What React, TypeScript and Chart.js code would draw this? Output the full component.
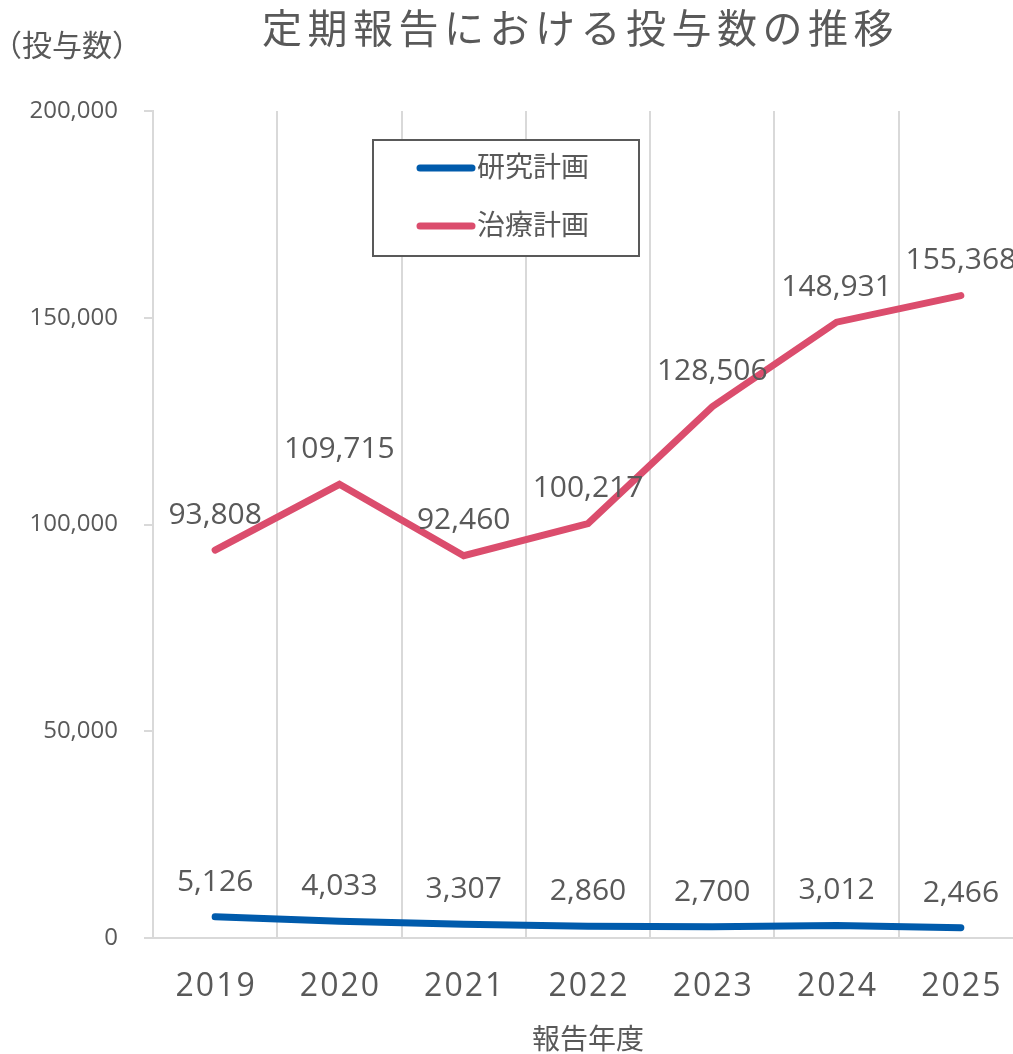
import React, { useEffect, useRef } from "react";
import { Chart, registerables } from "chart.js";

Chart.register(...registerables);

const title = "定期報告における投与数の推移";
const yAxisTitle = "（投与数）";
const xAxisTitle = "報告年度";
const years = ["2019", "2020", "2021", "2022", "2023", "2024", "2025"];
const seriesNames = ["研究計画", "治療計画"];
const research = [5126, 4033, 3307, 2860, 2700, 3012, 2466];
const treatment = [93808, 109715, 92460, 100217, 128506, 148931, 155368];
const yMin = 0;
const yMax = 200000;
const yStep = 50000;

const TEXT = "#595959";
const GRID = "#d9d9d9";
const BLUE = "#005bac";
const RED = "#db4d6d";
const NUM_FONT = '"Open Sans", "Noto Sans", sans-serif';
const JP_FONT = '"Noto Sans CJK JP", "Noto Sans", sans-serif';

const fmt = (v: number) => Number(v).toLocaleString("en-US");

const decorPlugin = {
  id: "decor",
  afterDatasetsDraw(chart: any) {
    const ctx = chart.ctx as CanvasRenderingContext2D;
    ctx.save();
    ctx.fillStyle = TEXT;
    ctx.font = `30px ${NUM_FONT}`;
    ctx.textAlign = "center";
    ctx.textBaseline = "alphabetic";
    chart.data.datasets.forEach((ds: any, i: number) => {
      const meta = chart.getDatasetMeta(i);
      meta.data.forEach((pt: any, j: number) => {
        ctx.fillText(fmt(ds.data[j]), pt.x, pt.y - 37 + 0.357 * 30);
      });
    });
    ctx.restore();
  },
  afterDraw(chart: any) {
    const ctx = chart.ctx as CanvasRenderingContext2D;
    const area = chart.chartArea;
    const xs = chart.scales.x;
    ctx.save();
    ctx.fillStyle = TEXT;

    // title
    ctx.font = `40px ${JP_FONT}`;
    (ctx as any).letterSpacing = "5.5px";
    ctx.textAlign = "left";
    ctx.textBaseline = "middle";
    ctx.fillText(title, 262, 28);

    // y axis title
    (ctx as any).letterSpacing = "0px";
    ctx.font = `30px ${JP_FONT}`;
    ctx.textAlign = "left";
    ctx.fillText(yAxisTitle, -8, 45);

    // x tick labels
    ctx.font = `32px ${NUM_FONT}`;
    (ctx as any).letterSpacing = "2px";
    ctx.textAlign = "center";
    ctx.textBaseline = "alphabetic";
    years.forEach((y, i) => {
      ctx.fillText(y, xs.getPixelForValue(i) + 1, 985 + 0.357 * 32);
    });
    (ctx as any).letterSpacing = "0px";

    // x axis title
    ctx.font = `28px ${JP_FONT}`;
    ctx.textBaseline = "middle";
    ctx.fillText(xAxisTitle, (area.left + area.right) / 2, 1038);

    // legend
    const bx = 373, by = 140, bw = 266, bh = 116;
    ctx.fillStyle = "#ffffff";
    ctx.fillRect(bx, by, bw, bh);
    ctx.strokeStyle = TEXT;
    ctx.lineWidth = 2;
    ctx.strokeRect(bx, by, bw, bh);
    const rows = [168, 226];
    chart.data.datasets.forEach((ds: any, i: number) => {
      const cy = rows[i];
      ctx.strokeStyle = ds.borderColor;
      ctx.lineWidth = 7;
      ctx.lineCap = "round";
      ctx.beginPath();
      ctx.moveTo(420, cy);
      ctx.lineTo(472, cy);
      ctx.stroke();
      ctx.fillStyle = TEXT;
      ctx.font = `28px ${JP_FONT}`;
      ctx.textAlign = "left";
      ctx.textBaseline = "middle";
      ctx.fillText(ds.label, 477, cy - 2);
    });
    ctx.restore();
  },
};

export default function App() {
  const ref = useRef<HTMLCanvasElement | null>(null);

  useEffect(() => {
    if (!ref.current) return;
    const chart = new Chart(ref.current, {
      type: "line",
      data: {
        labels: years,
        datasets: [
          {
            label: seriesNames[0],
            data: research,
            borderColor: BLUE,
            backgroundColor: BLUE,
            borderWidth: 7,
            borderCapStyle: "round",
            pointRadius: 0,
            pointHoverRadius: 0,
            tension: 0,
          },
          {
            label: seriesNames[1],
            data: treatment,
            borderColor: RED,
            backgroundColor: RED,
            borderWidth: 7,
            borderCapStyle: "round",
            pointRadius: 0,
            pointHoverRadius: 0,
            tension: 0,
          },
        ],
      },
      options: {
        responsive: false,
        animation: false,
        devicePixelRatio: 1,
        layout: { padding: { top: 111, right: 7, bottom: 0, left: 0 } },
        plugins: {
          legend: { display: false },
          title: { display: false },
          tooltip: { enabled: false },
        },
        scales: {
          x: {
            type: "category",
            offset: true,
            grid: { offset: true, color: GRID, lineWidth: 2, drawTicks: false },
            border: { display: true, color: GRID, width: 2 },
            ticks: { display: false },
            afterFit: (s: any) => {
              s.height = 116;
            },
          },
          y: {
            min: yMin,
            max: yMax,
            ticks: {
              stepSize: yStep,
              callback: (v: any) => fmt(v),
              color: TEXT,
              font: { size: 24, family: NUM_FONT },
              padding: 26,
            },
            grid: {
              drawOnChartArea: false,
              drawTicks: true,
              tickLength: 9,
              color: GRID,
              lineWidth: 2,
            },
            border: { display: true, color: GRID, width: 2 },
            afterFit: (s: any) => {
              s.width = 153;
            },
          },
        },
      },
      plugins: [decorPlugin],
    } as any);
    return () => chart.destroy();
  }, []);

  return (
    <div
      style={{
        position: "fixed",
        left: 0,
        top: 0,
        width: 1013,
        height: 1054,
        overflow: "hidden",
        background: "#ffffff",
      }}
    >
      <canvas ref={ref} width={1030} height={1054} style={{ display: "block" }} />
    </div>
  );
}
